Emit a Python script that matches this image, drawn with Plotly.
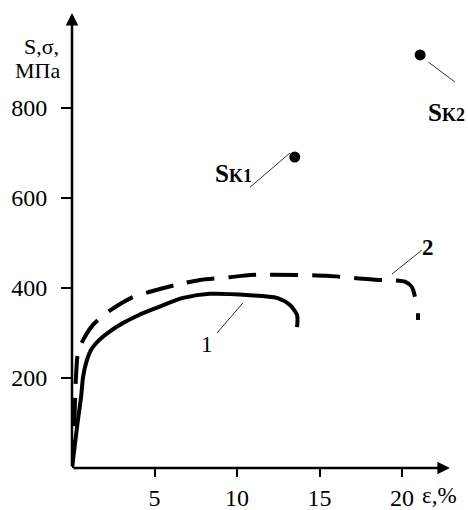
import plotly.graph_objects as go

# ---- data ----
curve1_eps = [0, 0.36, 0.55, 0.67, 0.85, 1.15, 1.64, 2.24, 3.09, 4.06, 5.27, 6.30, 6.73, 8.36, 10.79, 12.42, 13.21, 13.64, 13.64]
curve1_s = [0, 107, 158, 202, 233, 262, 284, 302, 322, 340, 358, 373, 378, 387, 384, 378, 362, 340, 313]

curve2_eps = [0, 0.12, 0.24, 0.36, 0.67, 1.27, 2.06, 3.70, 4.67, 6.30, 7.76, 9.58, 10.79, 13.64, 15.45, 18.55, 19.6, 20.18, 20.6, 20.79, None, 20.97, 20.97]
curve2_s = [0, 84, 202, 256, 284, 318, 344, 380, 391, 407, 418, 424, 429, 429, 427, 418, 417, 414, 402, 380, None, 344, 329]

sk_eps = [13.5, 21.1]
sk_s = [691, 918]
sk_labels = ["S<span style='font-size:18px'>K1</span>", "S<span style='font-size:18px'>K2</span>"]

x_ticks = [5, 10, 15, 20]
y_ticks = [200, 400, 600, 800]

FONT = "Liberation Serif"
W, H = 468, 510
L, B = 72, 42
X_MAX = 24.0
Y_MAX = 1040.0

fig = go.Figure()
fig.add_trace(go.Scatter(x=curve1_eps, y=curve1_s, mode="lines",
                         line=dict(color="black", width=4, shape="spline", smoothing=0.7),
                         hoverinfo="skip", showlegend=False))
fig.add_trace(go.Scatter(x=curve2_eps, y=curve2_s, mode="lines",
                         line=dict(color="black", width=4, dash="28px,14px", shape="spline", smoothing=0.7),
                         connectgaps=False, hoverinfo="skip", showlegend=False))
fig.add_trace(go.Scatter(x=sk_eps, y=sk_s, mode="markers",
                         marker=dict(color="black", size=11),
                         hoverinfo="skip", showlegend=False))

anns = []
# axis arrows
anns.append(dict(x=0, y=1011, ax=0, ay=0, xref="x", yref="y", axref="x", ayref="y",
                 text="", showarrow=True, arrowhead=2, arrowsize=1, arrowwidth=2.5,
                 arrowcolor="black", standoff=0, startstandoff=0))
anns.append(dict(x=22.9, y=0, ax=0, ay=0, xref="x", yref="y", axref="x", ayref="y",
                 text="", showarrow=True, arrowhead=2, arrowsize=1, arrowwidth=2.5,
                 arrowcolor="black", standoff=0, startstandoff=0))

def txt(x, y, text, size, xref="paper", yref="paper", yanchor="middle"):
    return dict(x=x, y=y, xref=xref, yref=yref, text=text, showarrow=False,
                xanchor="center", yanchor=yanchor,
                font=dict(family=FONT, size=size, color="black"))

# axis titles
anns.append(txt(-0.0758, 0.8996, "S,σ,", 22))
anns.append(txt(-0.087, 0.850, "МПа", 22))
anns.append(txt(0.927, -0.0897, "ε,%", 23, yanchor="bottom"))

# curve labels
anns.append(txt(8.2, 274, "1", 23, "x", "y"))
anns.append(txt(21.6, 490, "<b>2</b>", 23, "x", "y"))
anns.append(txt(9.79, 654, "<b>" + sk_labels[0] + "</b>", 25, "x", "y"))
anns.append(txt(22.67, 789, "<b>" + sk_labels[1] + "</b>", 25, "x", "y"))

shapes = []
for (x0, y0, x1, y1) in [(8.79, 300, 10.36, 367), (19.39, 431, 21.2, 484),
                         (10.79, 624, 13.21, 700), (21.6, 902, 23.2, 858)]:
    shapes.append(dict(type="line", xref="x", yref="y", x0=x0, y0=y0, x1=x1, y1=y1,
                       line=dict(color="#333", width=1)))

fig.update_layout(
    width=W, height=H,
    margin=dict(l=L, r=0, t=0, b=B, autoexpand=False),
    paper_bgcolor="white", plot_bgcolor="white",
    annotations=anns, shapes=shapes,
    font=dict(family=FONT, color="black"),
    xaxis=dict(range=[0, X_MAX], showgrid=False, zeroline=False, showline=False,
               automargin=False,
               tickmode="array", tickvals=x_ticks, ticktext=[str(v) for v in x_ticks],
               ticks="outside", ticklen=8, tickwidth=1.5, tickcolor="black",
               ticklabelstandoff=0,
               tickfont=dict(family=FONT, size=24, color="black"), fixedrange=True),
    yaxis=dict(range=[0, Y_MAX], showgrid=False, zeroline=False, showline=False,
               automargin=False,
               tickmode="array", tickvals=y_ticks, ticktext=[str(v) for v in y_ticks],
               ticks="outside", ticklen=10, tickwidth=2, tickcolor="black",
               ticklabelstandoff=9,
               tickfont=dict(family=FONT, size=24, color="black"), fixedrange=True),
)

fig.write_html("out.html", config={"displayModeBar": False})
